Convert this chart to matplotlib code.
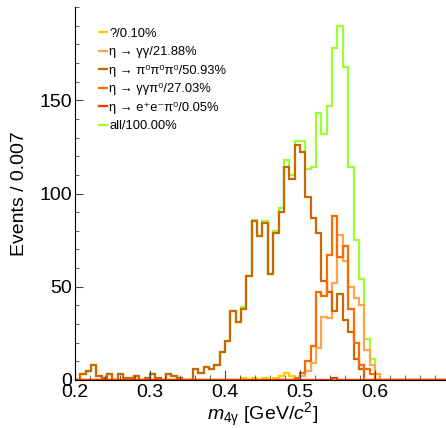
import numpy as np
import matplotlib

matplotlib.use("Agg")
import matplotlib.pyplot as plt
from matplotlib.lines import Line2D
from matplotlib.ticker import MultipleLocator

plt.rcParams["font.family"] = ["Liberation Sans", "DejaVu Sans"]
plt.rcParams["mathtext.fontset"] = "custom"
plt.rcParams["mathtext.rm"] = "Liberation Sans"
plt.rcParams["mathtext.it"] = "Liberation Sans:italic"
plt.rcParams["mathtext.default"] = "regular"

# 70 bins between 0.2 and 0.7 GeV/c^2
x_min, x_max, n_bins = 0.2, 0.7, 70

# events per bin
unknown = [0] * 31 + [1, 0, 1, 0, 1, 0, 1, 2, 4, 2, 1] + [0] * 28

gg = [0] * 42 + [2, 5, 9, 17, 34, 33, 52, 78, 64, 50, 44, 40, 16, 8, 3] + [0] * 13

pi0pi0pi0 = [
    0, 3, 5, 8, 2, 1, 3, 0, 3, 1, 1, 2, 0, 1, 3, 1, 0, 3, 2, 1, 0, 0,
    6, 4, 7, 6, 8, 15, 21, 37, 31, 38, 56, 85, 77, 84, 57, 79, 90, 114,
    108, 126, 122, 98, 87, 79, 53, 47, 37, 46, 32, 26, 11, 6,
] + [0] * 16

ggpi0 = [0] * 41 + [1, 4, 10, 18, 47, 45, 67, 88, 66, 72, 38, 20, 8, 6, 3] + [0] * 14

eepi0 = [0] * 48 + [1] + [0] * 21

labels = [
    "?/0.10%",
    "η → γγ/21.88%",
    "η → π⁰π⁰π⁰/50.93%",
    "η → γγπ⁰/27.03%",
    "η → e⁺e⁻π⁰/0.05%",
    "all/100.00%",
]
colors = ["#ffcc00", "#ffa64d", "#cc6600", "#ff6a00", "#ff3300", "#99ff33"]


def main():
    edges = np.linspace(x_min, x_max, n_bins + 1)
    parts = [unknown, gg, pi0pi0pi0, ggpi0, eepi0]
    total = np.sum([np.array(p) for p in parts], axis=0)
    series = [np.array(p) for p in parts] + [total]

    fig = plt.figure(figsize=(4.46, 4.28), dpi=100)
    ax = fig.add_axes([75 / 446, 48 / 428, 375 / 446, 373 / 428])

    # "all" first, the components on top of it
    ax.stairs(series[5], edges, color=colors[5], lw=1.6)
    for vals, col in zip(series[:5], colors[:5]):
        ax.stairs(vals, edges, color=col, lw=1.6)

    ax.set_xlim(x_min, x_max)
    ax.set_ylim(0, 200)

    ax.spines["top"].set_visible(False)
    ax.spines["right"].set_visible(False)

    ax.set_xticks([0.2, 0.3, 0.4, 0.5, 0.6])
    ax.set_xticklabels(["0.2", "0.3", "0.4", "0.5", "0.6"])
    ax.xaxis.set_minor_locator(MultipleLocator(0.02))
    ax.set_yticks([0, 50, 100, 150])
    ax.yaxis.set_minor_locator(MultipleLocator(10))

    ax.tick_params(axis="both", which="both", direction="in", labelsize=14,
                   color="#444444")
    ax.tick_params(axis="x", which="major", length=7, pad=3)
    ax.tick_params(axis="x", which="minor", length=3.5)
    ax.tick_params(axis="y", which="major", length=5.5, pad=2)
    ax.tick_params(axis="y", which="minor", length=3)

    ax.set_xlabel(r"$\mathit{m}_{4γ}$ [GeV/$\mathit{c}^{2}$]", fontsize=14,
                  labelpad=0)
    ax.set_ylabel("Events / 0.007", fontsize=14, labelpad=8)

    handles = [Line2D([], [], color=c, lw=1.6) for c in colors]
    ax.legend(handles, labels, loc="upper left", bbox_to_anchor=(0.064, 0.944),
              frameon=False, fontsize=9.3, handlelength=0.6, handletextpad=0.2,
              labelspacing=0.5, borderaxespad=0, borderpad=0)

    fig.savefig("out.png", dpi=100)
    plt.close(fig)


if __name__ == "__main__":
    main()
